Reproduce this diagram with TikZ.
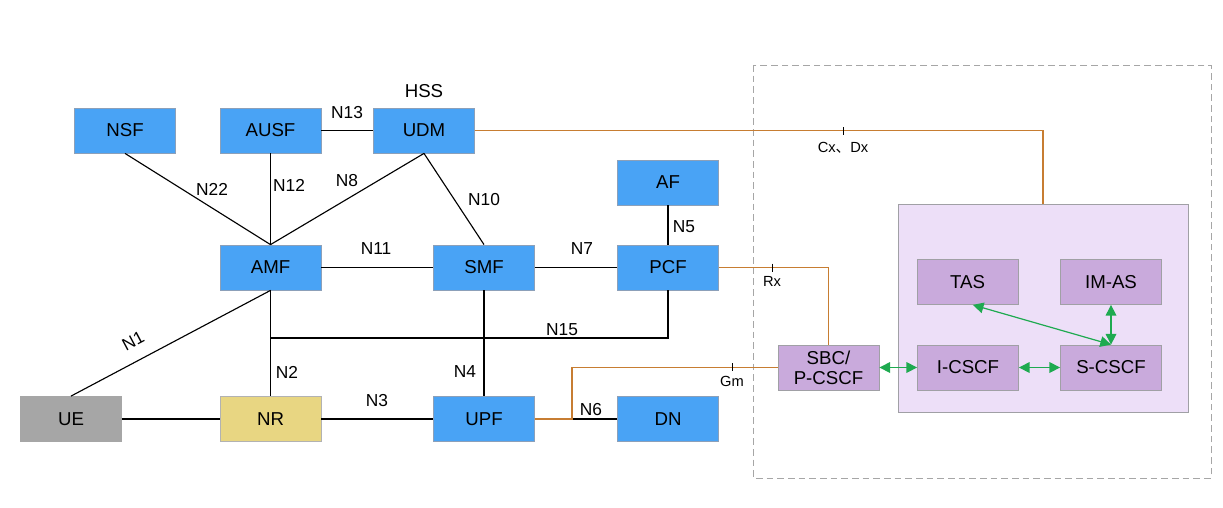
\documentclass[tikz,border=0pt]{standalone}
\usepackage{fontspec}
\setmainfont{Liberation Sans}
\newfontfamily\cjk{Noto Sans CJK SC}
\usepackage{tikz}
\usetikzlibrary{arrows.meta}

\definecolor{nfblue}{RGB}{73,163,245}
\definecolor{nfedge}{RGB}{140,160,185}
\definecolor{uegray}{RGB}{166,166,166}
\definecolor{nryellow}{RGB}{232,214,130}
\definecolor{imsbox}{RGB}{201,170,220}
\definecolor{imsarea}{RGB}{237,223,248}
\definecolor{imsedge}{RGB}{160,160,165}
\definecolor{ifline}{RGB}{199,125,50}
\definecolor{sipgreen}{RGB}{30,170,80}

\tikzset{
  nf/.style={draw=nfedge, fill=nfblue, line width=0.6pt, minimum width=75.75pt,
    minimum height=33.75pt, inner sep=0pt, font=\fontsize{14}{16}\selectfont},
  imsnf/.style={nf, draw=imsedge, fill=imsbox},
  ref/.style={font=\fontsize{13}{15}\selectfont, inner sep=0pt},
  small/.style={font=\fontsize{11}{13}\selectfont, inner sep=0pt},
  link/.style={line width=0.85pt},
  orange/.style={draw=ifline, line width=0.8pt},
  sip/.style={draw=sipgreen, line width=0.9pt, {Triangle[length=8pt,width=8pt]}-{Triangle[length=8pt,width=8pt]}}
}

\begin{document}
\begin{tikzpicture}[x=0.75pt, y=-0.75pt]
    \useasboundingbox (0,0) rectangle (1223,507);
    % IMS domain
    \draw[dashed, draw=black!35, line width=0.6pt, dash pattern=on 5pt off 3pt] (753,65) rectangle (1211,478);
    \node[draw=imsedge, fill=imsarea, line width=0.6pt, minimum width=217.5pt, minimum height=156pt] (ims) at (1043,308) {};

    % core network functions
    \node[nf] (NSF) at (125,130.5) {NSF};
    \node[nf] (AUSF) at (270.5,130.5) {AUSF};
    \node[nf] (UDM) at (424,130.5) {UDM};
    \node[nf] (AF) at (668,182.5) {AF};
    \node[nf] (AMF) at (270.5,267.5) {AMF};
    \node[nf] (SMF) at (484,267.5) {SMF};
    \node[nf] (PCF) at (668,267.5) {PCF};
    \node[nf, fill=uegray, draw=uegray] (UE) at (71,419) {UE};
    \node[nf, fill=nryellow, draw=black!30] (NR) at (270.5,419) {NR};
    \node[nf] (UPF) at (484,419) {UPF};
    \node[nf] (DN) at (668,419) {DN};
    \node[above] at (UDM.north) [yshift=7pt, font=\fontsize{14}{16}\selectfont, inner sep=0pt] {HSS};

    % IMS functions
    \node[imsnf, align=center, font=\fontsize{14}{15}\selectfont] (SBC) at (828.5,367.5) {SBC/\\P-CSCF};
    \node[imsnf] (TAS) at (967.5,282) {TAS};
    \node[imsnf] (IMAS) at (1111,282) {IM-AS};
    \node[imsnf] (ICSCF) at (968,367.5) {I-CSCF};
    \node[imsnf] (SCSCF) at (1111,367.5) {S-CSCF};

    % reference points
    \draw[link] (NSF.south) -- (AMF.north);
    \draw[link] (AUSF.south) -- (AMF.north);
    \draw[link] (UDM.south) -- (AMF.north);
    \draw[link] (UDM.south) -- (SMF.north);
    \draw[link] (AUSF) -- (UDM);
    \draw[link] (AMF) -- (SMF);
    \draw[link] (SMF) -- (PCF);
    \draw[link] (AF) -- (PCF);
    \draw[link] (AMF) -- (NR);
    \draw[link] (AMF.south) -- (UE.north);
    \coordinate (n15) at (270.5,338);
    \draw[link] (n15) -| (PCF.south);
    \draw[link] (SMF) -- (UPF);
    \draw[link] (UE) -- (NR);
    \draw[link] (NR) -- (UPF);
    \coordinate (gm) at (572,419);
    \draw[link] (gm) -- (DN.west);

    % IMS interfaces
    \draw[orange] (UPF.east) -- (gm) |- (SBC.west);
    \draw[orange] (PCF.east) -| (SBC.north);
    \draw[orange] (UDM.east) -| (ims.north);
    \draw[line width=0.6pt] (843,127) -- (843,135);
    \draw[line width=0.6pt] (772,263.5) -- (772,271.5);
    \draw[line width=0.6pt] (732,363) -- (732,371);
    \draw[sip] (SBC.east) -- (ICSCF.west);
    \draw[sip] (ICSCF.east) -- (SCSCF.west);
    \draw[sip] (IMAS.south) -- (SCSCF.north);
    \draw[sip] ([xshift=4pt]TAS.south) -- (SCSCF.north);

    % labels
    \node[ref] at (347,113) {N13};
    \node[ref] at (212,189) {N22};
    \node[ref] at (289,185) {N12};
    \node[ref] at (347,181) {N8};
    \node[ref] at (484,200) {N10};
    \node[ref] at (376,249) {N11};
    \node[ref] at (582,249) {N7};
    \node[ref] at (684,227) {N5};
    \node[ref] at (562,330) {N15};
    \node[ref, rotate=28] at (133,341) {N1};
    \node[ref] at (287,372) {N2};
    \node[ref] at (465,372) {N4};
    \node[ref] at (377,401) {N3};
    \node[ref] at (591,410) {N6};
    \node[small] at (772,281) {Rx};
    \node[small] at (732,381) {Gm};
    \node[small] at (843,148) {Cx{\cjk 、}Dx};
  \end{tikzpicture}
\end{document}
